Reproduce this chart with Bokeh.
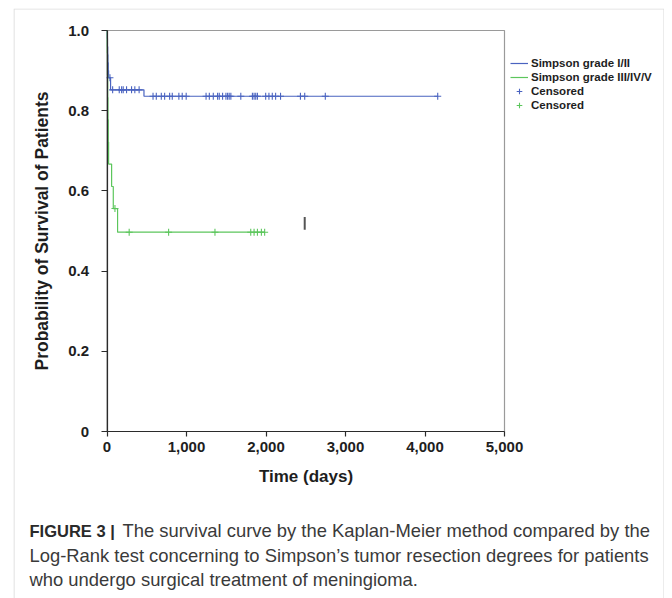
from bokeh.plotting import figure
from bokeh.models import (Range1d, FixedTicker, NumeralTickFormatter, Legend, LegendItem,
                          Label, LinearAxis, BoxAnnotation)
from bokeh.embed import file_html
from bokeh.resources import INLINE

# ---- data ----
g1_time = [0, 3, 6, 9, 12, 16, 20, 45, 465, 4160]
g1_surv = [1.0, 0.98, 0.96, 0.94, 0.92, 0.90, 0.882, 0.852, 0.836, 0.836]

g1_cens_time = [37, 71, 154, 184, 204, 246, 309, 350, 404,
                579, 620, 683, 725, 788, 821, 904, 946, 996, 1246, 1287, 1337, 1391, 1412,
                1454, 1496, 1517, 1537, 1558, 1683, 1829, 1850, 1871, 1892, 1996, 2037,
                2079, 2121, 2183, 2433, 2487, 2746, 4160]
g1_cens_surv = [0.882] + [0.852] * 8 + [0.836] * 33

g2_time = [0, 3, 6, 9, 12, 16, 20, 58, 79, 133, 1983]
g2_surv = [1.0, 0.944, 0.889, 0.833, 0.778, 0.722, 0.667, 0.611, 0.556, 0.497, 0.497]

g2_cens_time = [100, 279, 775, 1358, 1808, 1850, 1892, 1942, 1983]
g2_cens_surv = [0.556] + [0.497] * 8

stray_x = [2487]
stray_y0 = [0.503]
stray_y1 = [0.535]

x_min, x_max = 0, 5000
y_min, y_max = 0, 1.0
y_ticks = [0, 0.2, 0.4, 0.6, 0.8, 1.0]
y_tick_labels = ["0", "0.2", "0.4", "0.6", "0.8", "1.0"]
x_ticks = [0, 1000, 2000, 3000, 4000, 5000]

series_labels = ["Simpson grade I/II", "Simpson grade III/IV/V", "Censored", "Censored"]
x_label = "Time (days)"
y_label = "Probability of Survival of Patients"
caption_bold = "FIGURE 3 |"
caption_lines = [
    "The survival curve by the Kaplan-Meier method compared by the",
    "Log-Rank test concerning to Simpson\u2019s tumor resection degrees for patients",
    "who undergo surgical treatment of meningioma.",
]

BLUE = "#4a63c0"
GREEN = "#5cc65c"
AX = "#2b2b2b"
GRAY = "#8a8a8a"
FONT = "Liberation Sans"

# ---- layout in pixels ----
CW, CH = 664, 598            # canvas
FL, FT = 13, 8               # frame (= outer box) left / top
FW, FH = CW - FL, CH - FT    # frame size
PX0, PX1 = 106.5, 504.0      # chart x: data x_min / x_max
PY1, PY0 = 30.0, 431.0       # chart y: data y_max / y_min
sx = (PX1 - PX0) / (x_max - x_min)
sy = (PY0 - PY1) / (y_max - y_min)
xr = Range1d(x_min - (PX0 - FL) / sx, x_max + (CW - PX1) / sx)
yr = Range1d(y_min - (CH - PY0) / sy, y_max + (PY1 - FT) / sy)

p = figure(width=CW, height=CH, output_backend="svg", toolbar_location=None,
           x_range=xr, y_range=yr, x_axis_type=None, y_axis_type=None,
           min_border_left=FL, min_border_right=0, min_border_top=FT, min_border_bottom=0)
p.xgrid.visible = False
p.ygrid.visible = False
p.outline_line_color = None
p.background_fill_color = "white"
p.border_fill_color = "white"

# outer box border (bottom edge falls outside the window)
p.add_layout(BoxAnnotation(left=0.5, right=FW - 0.5, top=FH - 0.5, bottom=-20,
                           left_units="screen", right_units="screen",
                           top_units="screen", bottom_units="screen",
                           fill_alpha=0, line_color=GRAY, line_width=1.1))

# chart box (top / right edges)
p.quad(left=[x_min], right=[x_max], bottom=[y_min], top=[y_max],
       fill_alpha=0, line_color="#9a9a9a", line_width=1.2)

r1 = p.step(g1_time, g1_surv, mode="after", line_color=BLUE, line_width=1.2)
r2 = p.step(g2_time, g2_surv, mode="after", line_color=GREEN, line_width=1.2)
c1 = p.scatter(g1_cens_time, g1_cens_surv, marker="cross", size=7, line_color=BLUE, line_width=1.1)
c2 = p.scatter(g2_cens_time, g2_cens_surv, marker="cross", size=7, line_color=GREEN, line_width=1.1)
p.segment(x0=stray_x, y0=stray_y0, x1=stray_x, y1=stray_y1, line_color="#555555", line_width=2)

xaxis = LinearAxis(fixed_location=y_min, bounds=(x_min, x_max),
                   ticker=FixedTicker(ticks=x_ticks), formatter=NumeralTickFormatter(format="0,0"))
yaxis = LinearAxis(fixed_location=x_min, bounds=(y_min, y_max),
                   ticker=FixedTicker(ticks=y_ticks),
                   major_label_overrides={t: l for t, l in zip(y_ticks, y_tick_labels)})
for ax in (xaxis, yaxis):
    ax.axis_line_color = AX
    ax.axis_line_width = 1.2
    ax.major_tick_line_color = AX
    ax.major_tick_line_width = 1.2
    ax.major_tick_in = 0
    ax.minor_tick_line_color = None
    ax.major_label_text_font = FONT
    ax.major_label_text_font_style = "bold"
    ax.major_label_text_font_size = "15px"
    ax.major_label_text_color = "#1e1e1e"
    ax.axis_label_text_font = FONT
    ax.axis_label_text_font_style = "bold"
    ax.axis_label_text_color = "#1e1e1e"

xaxis.major_tick_out = 5
xaxis.major_label_standoff = 5
xaxis.axis_label = x_label
xaxis.axis_label_text_font_size = "17px"
xaxis.axis_label_standoff = 12

yaxis.major_tick_out = 6
yaxis.major_label_standoff = 12
yaxis.axis_label = y_label
yaxis.axis_label_text_font_size = "17.5px"
yaxis.axis_label_standoff = 14

p.add_layout(xaxis, "below")
p.add_layout(yaxis, "left")

legend = Legend(items=[LegendItem(label=series_labels[0], renderers=[r1]),
                       LegendItem(label=series_labels[1], renderers=[r2]),
                       LegendItem(label=series_labels[2], renderers=[c1]),
                       LegendItem(label=series_labels[3], renderers=[c2])],
                location=(510 - FL, CH - 112), margin=0, padding=0, spacing=0,
                glyph_width=18, glyph_height=14, label_height=14, label_standoff=3,
                border_line_color=None, background_fill_alpha=0,
                label_text_font=FONT, label_text_font_style="bold",
                label_text_font_size="11.5px", label_text_color="#1e1e1e")
p.add_layout(legend)

# caption (screen units from the frame's bottom-left)
cap_y = [CH - 530, CH - 555, CH - 579]
p.add_layout(Label(x=29 - FL, y=cap_y[0], x_units="screen", y_units="screen", text=caption_bold,
                   text_font=FONT, text_font_style="bold", text_font_size="16.5px",
                   text_color="#2a2a2a", text_baseline="middle"))
p.add_layout(Label(x=122 - FL, y=cap_y[0], x_units="screen", y_units="screen", text=caption_lines[0],
                   text_font=FONT, text_font_size="18.4px",
                   text_color="#3a3a3a", text_baseline="middle"))
for yy, line in zip(cap_y[1:], caption_lines[1:]):
    p.add_layout(Label(x=29 - FL, y=yy, x_units="screen", y_units="screen", text=line,
                       text_font=FONT, text_font_size="18.4px",
                       text_color="#3a3a3a", text_baseline="middle"))

open("out.html", "w").write(file_html(p, INLINE))
